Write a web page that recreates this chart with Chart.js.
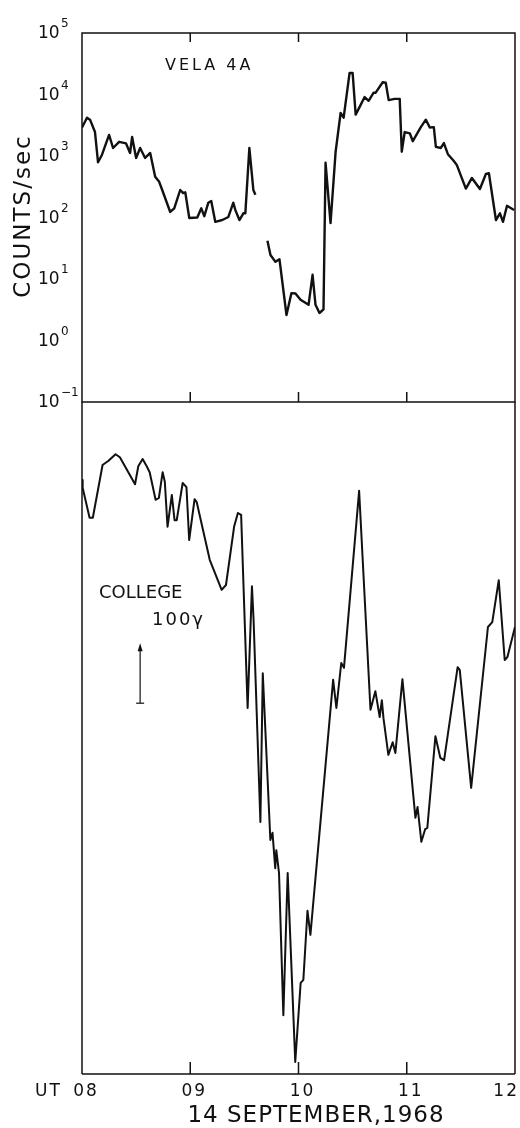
<!DOCTYPE html>
<html>
<head>
<meta charset="utf-8">
<script src="https://cdn.jsdelivr.net/npm/chart.js@4.4.1/dist/chart.umd.min.js"></script>
<style>
  html, body { margin: 0; padding: 0; background: #fff; }
  #wrap { position: relative; width: 520px; height: 1128px; background: #fff; }
  canvas { position: absolute; left: 0; top: 0; }
</style>
</head>
<body>
<div id="wrap">
  <canvas id="topChart" width="520" height="420"></canvas>
  <canvas id="botChart" width="520" height="1128"></canvas>
</div>
<script>
// ---------------- DATA ----------------
// VELA 4A counts/sec (log scale); null = data gap
const velaTime = [
  8.000,8.046,8.074,8.120,8.148,8.185,8.250,8.287,8.343,8.407,
  8.444,8.463,8.500,8.537,8.583,8.630,8.676,8.713,8.741,8.815,
  8.852,8.907,8.935,8.954,8.991,9.065,9.102,9.130,9.167,9.194,
  9.231,9.296,9.352,9.398,9.417,9.454,9.491,9.509,9.546,9.583,
  9.602,9.650,
  9.713,9.741,9.787,9.824,9.889,9.935,9.972,10.019,10.093,10.130,
  10.157,10.194,10.231,10.250,10.296,10.343,10.389,10.417,10.472,10.500,
  10.528,10.565,10.611,10.648,10.694,10.713,10.778,10.806,10.833,10.889,
  10.935,10.954,10.981,11.028,11.056,11.130,11.176,11.213,11.250,11.269,
  11.315,11.343,11.380,11.435,11.463,11.546,11.602,11.676,11.731,11.759,
  11.824,11.861,11.889,11.926,11.991
];
const velaCounts = [
  2900,4200,3900,2450,790,1050,2200,1350,1700,1600,
  1120,2040,930,1350,930,1120,460,380,280,123,
  141,280,250,257,98,100,141,105,174,186,
  85,91,102,174,132,91,117,117,1350,280,
  234,null,
  42,24.5,19,21,2.6,5.9,5.8,4.6,3.8,11.7,
  3.8,2.8,3.2,776,81,1175,5000,4200,22400,22400,
  4700,6300,9100,7900,10700,10700,15800,15500,8100,8500,
  8500,1175,2450,2340,1740,2950,3900,2900,2950,1410,
  1350,1620,1070,830,710,295,440,290,510,525,
  91,117,85,155,132
];
// College magnetometer H trace (gamma, arbitrary baseline)
const collegeTime = [
  8.00,8.006,8.07,8.10,8.19,8.245,8.31,8.35,8.49,8.52,
  8.56,8.60,8.625,8.68,8.71,8.745,8.765,8.79,8.83,8.855,
  8.875,8.93,8.965,8.99,9.04,9.06,9.18,9.29,9.33,9.405,
  9.44,9.47,9.53,9.57,9.585,9.648,9.67,9.74,9.76,9.785,
  9.795,9.82,9.86,9.90,9.97,10.02,10.045,10.083,10.11,10.32,
  10.35,10.395,10.42,10.56,10.665,10.71,10.75,10.77,10.785,10.83,
  10.87,10.895,10.96,11.08,11.10,11.135,11.17,11.19,11.265,11.31,
  11.345,11.47,11.49,11.595,11.75,11.79,11.85,11.905,11.93,12.00
];
const collegeH = [
  990,977,927,927,1015,1022,1033,1028,983,1013,
  1025,1012,1003,957,960,1003,987,912,965,923,
  923,985,978,890,958,953,857,807,815,912,
  935,932,610,813,757,420,668,390,402,343,
  373,335,98,335,20,152,157,272,232,657,
  610,685,677,972,607,638,595,623,593,532,
  553,535,658,427,445,387,408,410,563,527,
  523,678,673,477,745,753,823,690,695,745
];
// Axis ticks / labels
const logTicks = [0.1, 1, 10, 100, 1000, 10000, 100000];
const logTickBase = '10';
const logTickExponents = ['-1', '0', '1', '2', '3', '4', '5'];
const hourTicks = [8, 9, 10, 11, 12];
const hourLabels = ['08', '09', '10', '11', '12'];
const innerHourTicks = [9, 10, 11];
const scaleBarBase = 618;   // gamma
const scaleBarSize = 100;   // gamma
const scaleBarTime = 8.537;

// ---------------- STYLE ----------------
const INK = '#111';
const FONT = '"DejaVu Sans", "Liberation Sans", sans-serif';

function line(ctx, x1, y1, x2, y2) {
  ctx.beginPath(); ctx.moveTo(x1, y1); ctx.lineTo(x2, y2); ctx.stroke();
}

const topDecor = {
  id: 'topDecor',
  afterDraw(chart) {
    const ctx = chart.ctx, a = chart.chartArea, xs = chart.scales.x, ys = chart.scales.y;
    ctx.save();
    ctx.strokeStyle = INK; ctx.lineWidth = 1.5;
    ctx.strokeRect(a.left, a.top, a.right - a.left, a.bottom - a.top);
    innerHourTicks.forEach(h => {
      const px = xs.getPixelForValue(h);
      line(ctx, px, a.top, px, a.top + 9);
      line(ctx, px, a.bottom, px, a.bottom - 10);
    });
    ctx.fillStyle = INK;
    // y tick labels: 10 with raised exponent
    ctx.textAlign = 'left'; ctx.textBaseline = 'middle';
    logTicks.forEach((v, i) => {
      const py = ys.getPixelForValue(v);
      ctx.font = '17px ' + FONT;
      ctx.letterSpacing = '0px';
      ctx.fillText(logTickBase, 38, py + 1);
      ctx.font = '12px ' + FONT;
      ctx.fillText(logTickExponents[i].replace('-', '\u2212'), 61, py - 9);
    });
    // y-axis title
    ctx.save();
    ctx.translate(24, 216);
    ctx.rotate(-Math.PI / 2);
    ctx.font = '23px ' + FONT;
    ctx.letterSpacing = '2px';
    ctx.textAlign = 'center'; ctx.textBaseline = 'middle';
    ctx.fillText('COUNTS/sec', 0, 0);
    ctx.restore();
    // panel label
    ctx.font = '16px ' + FONT;
    ctx.letterSpacing = '3px';
    ctx.textAlign = 'left'; ctx.textBaseline = 'middle';
    ctx.fillText('VELA 4A', 165, 66);
    ctx.restore();
  }
};

const botDecor = {
  id: 'botDecor',
  afterDraw(chart) {
    const ctx = chart.ctx, a = chart.chartArea, xs = chart.scales.x, ys = chart.scales.y;
    ctx.save();
    ctx.strokeStyle = INK; ctx.lineWidth = 1.5;
    line(ctx, a.left, a.top, a.left, a.bottom);
    line(ctx, a.right, a.top, a.right, a.bottom);
    line(ctx, a.left, a.bottom, a.right, a.bottom);
    innerHourTicks.forEach(h => {
      const px = xs.getPixelForValue(h);
      line(ctx, px, a.bottom, px, a.bottom - 12);
    });
    ctx.fillStyle = INK;
    // hour labels
    ctx.font = '17px ' + FONT;
    ctx.letterSpacing = '2px';
    ctx.textBaseline = 'middle'; ctx.textAlign = 'center';
    hourTicks.forEach((h, i) => {
      let px = xs.getPixelForValue(h) + 4;
      const w = ctx.measureText(hourLabels[i]).width;
      px = Math.min(px, 519 - w / 2);
      ctx.fillText(hourLabels[i], px, 1092);
    });
    ctx.textAlign = 'left';
    ctx.fillText('UT', 35, 1092);
    // x title
    ctx.font = '23px ' + FONT;
    ctx.letterSpacing = '1px';
    ctx.textAlign = 'center';
    ctx.fillText('14 SEPTEMBER,1968', 316, 1116);
    // station label + scale bar
    ctx.font = '18px ' + FONT;
    ctx.letterSpacing = '0px';
    ctx.textAlign = 'left';
    ctx.fillText('COLLEGE', 99, 593);
    ctx.letterSpacing = '2px';
    ctx.fillText('100\u03B3', 152, 620);
    const bx = xs.getPixelForValue(scaleBarTime);
    const yb = ys.getPixelForValue(scaleBarBase);
    const yt = ys.getPixelForValue(scaleBarBase + scaleBarSize);
    ctx.lineWidth = 1.2;
    line(ctx, bx, yb, bx, yt + 4);
    line(ctx, bx - 4, yb, bx + 4, yb);
    ctx.beginPath();
    ctx.moveTo(bx, yt); ctx.lineTo(bx - 2.5, yt + 8); ctx.lineTo(bx + 2.5, yt + 8); ctx.closePath();
    ctx.fill();
    ctx.restore();
  }
};

const velaPoints = velaTime.map((t, i) => ({ x: t, y: velaCounts[i] }));
const collegePoints = collegeTime.map((t, i) => ({ x: t, y: collegeH[i] }));

new Chart(document.getElementById('topChart'), {
  type: 'line',
  data: { datasets: [{ data: velaPoints, borderColor: INK, borderWidth: 2.4, pointRadius: 0, tension: 0, spanGaps: false, borderJoinStyle: 'round' }] },
  options: {
    responsive: false, animation: false, devicePixelRatio: 1,
    layout: { padding: { top: 33, right: 5, bottom: 18, left: 0 } },
    plugins: { legend: { display: false }, tooltip: { enabled: false } },
    scales: {
      x: { type: 'linear', min: 8, max: 12, display: false },
      y: {
        type: 'logarithmic', min: 0.1, max: 100000,
        afterFit: s => { s.width = 82; },
        afterBuildTicks: s => { s.ticks = logTicks.map(v => ({ value: v })); },
        ticks: { display: false },
        grid: { display: false, drawTicks: false },
        border: { display: false }
      }
    }
  },
  plugins: [topDecor]
});

new Chart(document.getElementById('botChart'), {
  type: 'line',
  data: { datasets: [{ data: collegePoints, borderColor: INK, borderWidth: 2, pointRadius: 0, tension: 0, borderJoinStyle: 'round' }] },
  options: {
    responsive: false, animation: false, devicePixelRatio: 1,
    layout: { padding: { top: 402, right: 5, bottom: 54, left: 82 } },
    plugins: { legend: { display: false }, tooltip: { enabled: false } },
    scales: {
      x: { type: 'linear', min: 8, max: 12, display: false },
      y: { type: 'linear', min: 0, max: 1120, display: false }
    }
  },
  plugins: [botDecor]
});
</script>
</body>
</html>
